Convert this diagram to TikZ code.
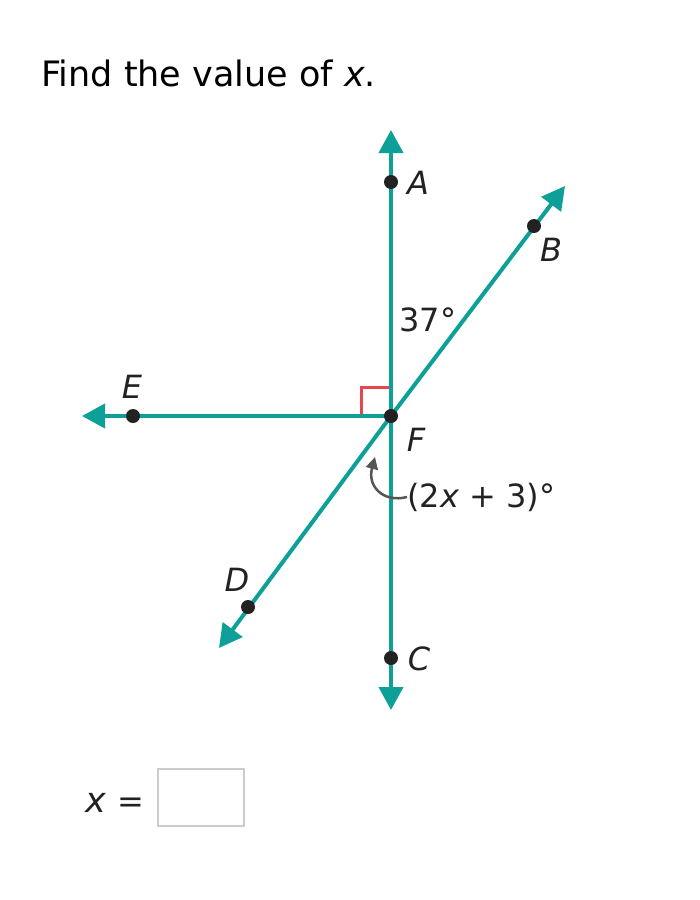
\documentclass[tikz,border=0pt]{standalone}
\usepackage{fontspec}
\setmainfont{DejaVu Sans}
\usetikzlibrary{arrows.meta}
\definecolor{teal1}{RGB}{12,160,152}
\definecolor{dotc}{RGB}{34,34,34}
\definecolor{redc}{RGB}{232,70,76}
\definecolor{grayc}{RGB}{85,85,85}
\definecolor{boxc}{RGB}{204,204,204}
\tikzset{
  ray/.style={draw=teal1, line width=4pt, -{Triangle[length=23pt,width=24pt]}},
  pt/.style={circle, fill=dotc, inner sep=0pt, minimum size=14pt},
  lab/.style={font=\fontsize{32}{36}\selectfont\itshape, inner sep=0pt, text=dotc},
  numlab/.style={font=\fontsize{32}{36}\selectfont, inner sep=0pt, text=dotc},
}
\begin{document}
\begin{tikzpicture}[x=1pt,y=-1pt]
\useasboundingbox (0,0) rectangle (700,900);
\fill[white] (0,0) rectangle (700,900);
\node[anchor=base west, inner sep=0pt, font=\fontsize{35}{40}\selectfont, text=black] (title) at (41,86) {Find the value of \textit{x}.};
% points
\coordinate (F) at (391,416);
\coordinate (Atip) at (391,130);
\coordinate (Ctip) at (391,710);
\coordinate (Etip) at (82,416);
\coordinate (Btip) at (565,186);
\coordinate (Dtip) at (219,648);
% right angle
\draw[redc, line width=3pt] (361,416) -- (361,387) -- (391,387);
% rays
\draw[ray] (F) -- (Atip);
\draw[ray] (F) -- (Ctip);
\draw[ray] (F) -- (Etip);
\draw[ray] (F) -- (Btip);
\draw[ray] (F) -- (Dtip);
% dots
\node[pt] (A) at (391,182) {};
\node[pt] (C) at (391,658) {};
\node[pt] (E) at (133,416) {};
\node[pt] (B) at (534,226) {};
\node[pt] (D) at (248,607) {};
\node[pt] (Fd) at (F) {};
% labels
\node[lab] (lA) at (418,183) {A};
\node[lab] (lB) at (551,250) {B};
\node[lab] (lC) at (419,659) {C};
\node[lab] (lD) at (237,580) {D};
\node[lab] (lE) at (132,387) {E};
\node[lab] (lF) at (416,440) {F};
\node[numlab] (a37) at (428,320) {37°};
\node[numlab, anchor=west] (ang) at (407,497) {(2\textit{x} + 3)°};
\coordinate (arrend) at (375,457);
\draw[grayc, line width=2.5pt, -{Triangle[length=12pt,width=12pt]}] (ang.west) .. controls (384,503) and (367,487) .. (arrend);
% answer
\node[lab, anchor=base east, font=\fontsize{35}{40}\selectfont\itshape] (xv) at (106,812) {x};
\node[numlab, anchor=base] (eq) at (131,812) {=};
\node[draw=boxc, line width=1.5pt, minimum width=86pt, minimum height=57pt, inner sep=0pt] (box) at (201,797.5) {};
\end{tikzpicture}
\end{document}
